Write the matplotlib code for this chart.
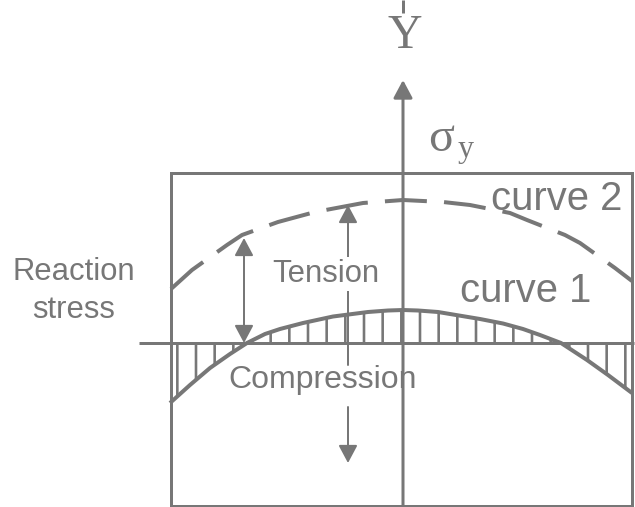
import numpy as np
import matplotlib.pyplot as plt
from matplotlib.patches import FancyArrowPatch, Rectangle

gris = '#777777'
DPI = 112
px = 72.0 / DPI  # puntos por pixel
plt.rcParams['hatch.color'] = gris
plt.rcParams['hatch.linewidth'] = 2.6 * px

# curva 1 (continua): esfuerzo de reaccion, origen en el eje Y / linea base
x1 = [-233, -213, -193, -173, -156, -138, -123, -100, -70, -35, -15, 0, 15, 35, 77, 100, 120, 137, 158, 184, 205, 229]
y1 = [-60, -42, -25, -11, 0, 9, 14, 20, 26.5, 31, 32.5, 33, 32.5, 31, 24, 19.5, 14, 8, 0, -17, -32, -50]
# curva 2 (discontinua)
x2 = [-232, -211, -176, -161, -125, -88, -40, 0, 40, 67, 107, 124, 162, 177, 212, 229]
y2 = [54, 73, 98, 108, 121, 131, 140, 143, 141, 138, 130, 123, 108, 100, 75, 62]

# caja y ejes
caja_x = [-232, 229]
caja_y = [-163, 170]
base_x = [-264, 231]
eje_y = [-163, 263]

# flechas
flecha_doble = [(-159, 0), (-159, 105)]
flecha_tension = [(-55, -22), (-55, 138)]
flecha_comp = [(-55, -64), (-55, -120)]

fig = plt.figure(figsize=(635/DPI, 507/DPI), dpi=DPI)
ax = fig.add_axes([0, 0, 1, 1])
ax.set_xlim(-403, 232)
ax.set_ylim(-164, 343)
ax.axis('off')

ax.add_patch(Rectangle((caja_x[0], caja_y[0]), caja_x[1]-caja_x[0], caja_y[1]-caja_y[0],
                       fill=False, edgecolor=gris, lw=3*px, zorder=2))
ax.plot(base_x, [0, 0], color=gris, lw=3*px, zorder=2, solid_capstyle='butt')
ax.plot([0, 0], [330, 343], color=gris, lw=3*px, solid_capstyle='butt')

def flecha(p0, p1, estilo, lw, hl=15, hw=8):
	a = FancyArrowPatch(p0, p1, arrowstyle='%s,head_length=%g,head_width=%g' % (estilo, hl*px, hw*px),
	                    mutation_scale=1, shrinkA=0, shrinkB=0, color=gris, lw=lw*px, zorder=3)
	ax.add_patch(a)

flecha((0, eje_y[0]), (0, eje_y[1]), '-|>', 3)
flecha(flecha_doble[0], flecha_doble[1], '<|-|>', 2)
flecha(flecha_tension[0], flecha_tension[1], '-|>', 2)
flecha(flecha_comp[0], flecha_comp[1], '-|>', 2)

# rayado entre curva 1 y la linea base
ax.fill_between(x1, y1, 0, hatch='|', facecolor='none', edgecolor=gris, linewidth=0, zorder=2)
ax.plot(x1, y1, color=gris, lw=4*px, zorder=4, solid_capstyle='butt')
ax.plot(x2, y2, color=gris, lw=4*px, zorder=4, linestyle=(0, (10.5, 4.3)))

txt = dict(color=gris, family='Liberation Sans')
serif = dict(color=gris, family='Liberation Serif')
ax.text(2, 295, 'Y', fontsize=48*px, ha='center', va='baseline', **serif)
ax.text(25, 192, 'σ', fontsize=48*px, ha='left', va='baseline', **serif)
ax.text(55, 186, 'y', fontsize=32*px, ha='left', va='baseline', **serif)
ax.text(-77, 61, 'Tension', fontsize=31*px, ha='center', va='baseline', zorder=5,
        bbox=dict(facecolor='white', edgecolor='none', pad=1), **txt)
ax.text(-80, -45, 'Compression', fontsize=32*px, ha='center', va='baseline', zorder=5, **txt)
ax.text(123, 41, 'curve 1', fontsize=40*px, ha='center', va='baseline', zorder=5, **txt)
ax.text(154, 133, 'curve 2', fontsize=40*px, ha='center', va='baseline', zorder=5, **txt)
ax.text(-329, 63, 'Reaction', fontsize=31*px, ha='center', va='baseline', **txt)
ax.text(-329, 25, 'stress', fontsize=31*px, ha='center', va='baseline', **txt)

plt.savefig('out.png', dpi=DPI)
